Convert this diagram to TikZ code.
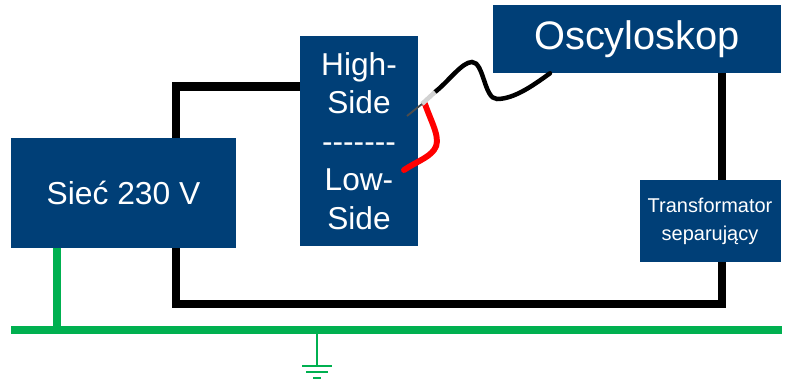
\documentclass[tikz,border=0pt]{standalone}
\usepackage{fontspec}
\setmainfont{Liberation Sans}
\definecolor{boxblue}{HTML}{003F77}
\definecolor{busgreen}{HTML}{00B050}

\begin{document}
\begin{tikzpicture}[
    x=0.025cm, y=-0.025cm,
    box/.style={draw=none, fill=boxblue, text=white, align=center, inner sep=0pt},
    wire/.style={line width=5.7pt, black, line join=miter},
    probe/.style={line width=3.2pt, line cap=round}
]
\useasboundingbox (0,0) rectangle (802,380);

% Green bus and earth
\draw[busgreen, line width=5.8pt] (11,330) coordinate (busL) -- (782,330) coordinate (busR);
\coordinate (earth) at (317,366);
\draw[busgreen, line width=1.8pt] (317,330) -- (earth);
\draw[busgreen, line width=1.8pt] (302,366) -- (332,366);
\draw[busgreen, line width=1.8pt] (306,372) -- (328,372);
\draw[busgreen, line width=1.8pt] (313,378) -- (321,378);

% Boxes
\node (mains) [box, minimum width=225*0.025cm, minimum height=110*0.025cm, font=\fontsize{22.6}{28}\selectfont] at (123.5,193) {Sieć 230 V};
\node (dut) [box, minimum width=118*0.025cm, minimum height=210*0.025cm, font=\fontsize{22.5}{27.4}\selectfont] at (359,141) {High-\\Side\\-{}-{}-{}-{}-{}-{}-\\Low-\\Side};
\node (scope) [box, minimum width=288*0.025cm, minimum height=68*0.025cm, font=\fontsize{28.3}{32}\selectfont] at (637,39) {Oscyloskop};
\node (trafo) [box, minimum width=141*0.025cm, minimum height=82*0.025cm, font=\fontsize{14.2}{20}\selectfont] at (710,221) {Transformator\\separujący};

% Wires
\draw[wire] (mains.north -| 176,0) |- (dut.west |- 0,86.5);
\draw[wire] (mains.south -| 176,0) |- (722,304) -- (trafo.south -| 722,0);
\draw[wire] (scope.south -| 722,0) -- (trafo.north -| 722,0);
\draw[busgreen, line width=5.2pt] (mains.south -| 57,0) -- (busL -| 57,0);

% Probe
\coordinate (tip) at (407,116);
\coordinate (collar) at (422,104);
\coordinate (grip) at (435,92);
\draw[probe, red, line width=4.2pt] (425,104) .. controls (432,124) and (442,140) .. (434,150) .. controls (428,158) and (416,162) .. (404,170);
\draw[probe, black] (grip) .. controls (448,82) and (462,62) .. (472,62) .. controls (484,62) and (484,99) .. (497,99) .. controls (515,99) and (535,84) .. (scope.south -| 550,0);
\draw[gray!35, line width=3.2pt] (grip) -- (collar);
\draw[black!70, line width=1.3pt] (collar) -- (tip);
\end{tikzpicture}
\end{document}
